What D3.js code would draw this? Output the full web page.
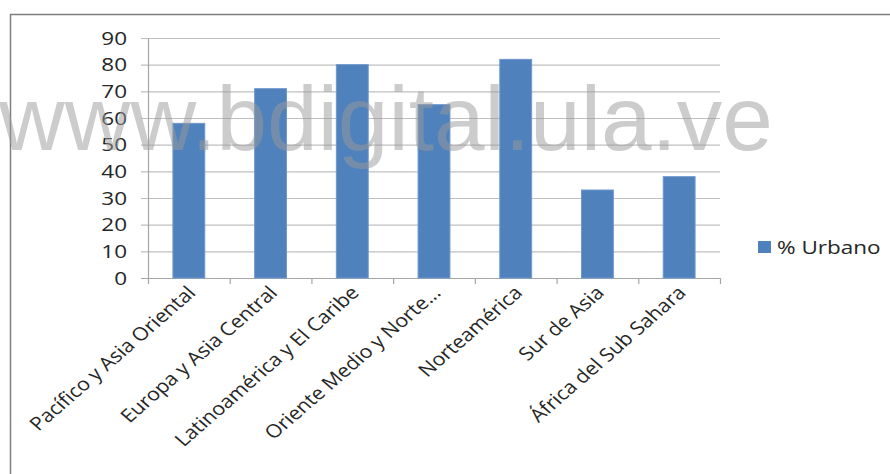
<!DOCTYPE html>
<html>
<head>
<meta charset="utf-8">
<script src="https://cdn.jsdelivr.net/npm/d3@7"></script>
<style>
  body { margin: 0; background: #fff; }
  text { font-family: "Open Sans", Lato, sans-serif; }
</style>
</head>
<body>
<div id="chart"></div>
<script>
// data
var categories = ["Pacífico y Asia Oriental", "Europa y Asia Central", "Latinoamérica y El Caribe",
                  "Oriente Medio y Norte...", "Norteamérica", "Sur de Asia", "África del Sub Sahara"];
var urbano = [58, 71, 80, 65, 82, 33, 38];
var yTicks = [0, 10, 20, 30, 40, 50, 60, 70, 80, 90];
var seriesName = "% Urbano";

var W = 890, H = 474;
var margin = {top: 38, right: 170, bottom: 196, left: 148},
    width = W - margin.left - margin.right,
    height = H - margin.top - margin.bottom;

// the original picture is a bit stretched sideways, so text gets wider
var sx = 1.25;

var root = d3.select("#chart")
  .append("svg")
    .attr("width", W)
    .attr("height", H);

// outer chart frame
root.append("rect")
  .attr("x", 10.5).attr("y", 14.5)
  .attr("width", 900).attr("height", 500)
  .attr("fill", "none")
  .attr("stroke", "#7f7f7f")
  .attr("stroke-width", 1.5);

var svg = root.append("g")
  .attr("transform", "translate(" + margin.left + "," + margin.top + ")");

var x = d3.scaleBand()
  .domain(categories)
  .range([0, width])
  .paddingInner(0.61)
  .paddingOuter(0.305);

var y = d3.scaleLinear()
  .domain([0, 90])
  .range([height, 0]);

// gridlines
svg.append("g")
  .selectAll("line")
  .data(yTicks)
  .enter().append("line")
    .attr("x1", -7).attr("x2", width)
    .attr("y1", function(d) { return y(d) + 0.5; })
    .attr("y2", function(d) { return y(d) + 0.5; })
    .attr("stroke", function(d) { return d === 0 ? "#a6a6a6" : "#bfbfbf"; })
    .attr("stroke-width", 1.2);

// Y axis line
var yAxis = svg.append("g")
  .call(d3.axisLeft(y).tickValues(yTicks).tickSize(0).tickFormat(""));
yAxis.select(".domain").attr("stroke", "#a6a6a6").attr("stroke-width", 1.2);

// Y tick labels
svg.append("g")
  .selectAll("text")
  .data(yTicks)
  .enter().append("text")
    .attr("transform", function(d) {
      return "translate(-21," + (y(d) + 6.5) + ") scale(" + sx + ",1)";
    })
    .attr("text-anchor", "end")
    .attr("font-size", "18px")
    .attr("fill", "#262626")
    .text(function(d) { return d; });

// category tick marks
var edges = categories.map(function(c, i) { return i; }).concat([categories.length]);
var step = x.step();
svg.append("g")
  .selectAll("line")
  .data(edges)
  .enter().append("line")
    .attr("x1", function(d) { return d * step + 0.5; })
    .attr("x2", function(d) { return d * step + 0.5; })
    .attr("y1", height).attr("y2", height + 6)
    .attr("stroke", "#a6a6a6")
    .attr("stroke-width", 1.2);

// bars
svg.append("g")
  .selectAll("rect")
  .data(urbano)
  .enter().append("rect")
    .attr("x", function(d, i) { return x(categories[i]); })
    .attr("y", function(d) { return y(d); })
    .attr("width", x.bandwidth())
    .attr("height", function(d) { return height - y(d); })
    .attr("fill", "#4f81bd")
    .attr("stroke", "#6f98cc")
    .attr("stroke-width", 1);

// x labels, rotated
svg.append("g")
  .selectAll("text")
  .data(categories)
  .enter().append("text")
    .attr("transform", function(d) {
      return "translate(" + (x(d) + x.bandwidth() / 2 + 8) + "," + (height + 16) + ") scale(1.15,1) rotate(-45)";
    })
    .attr("text-anchor", "end")
    .attr("font-size", "18.5px")
    .attr("fill", "#262626")
    .text(function(d) { return d; });

// legend
var legend = root.append("g").attr("transform", "translate(758,241)");
legend.append("rect")
  .attr("width", 13).attr("height", 12)
  .attr("fill", "#4f81bd");
legend.append("text")
  .attr("transform", "translate(19,13) scale(" + sx + ",1)")
  .attr("font-size", "18px")
  .attr("fill", "#262626")
  .text(seriesName);

// watermark
root.append("text")
  .attr("x", -1).attr("y", 150)
  .style("font-family", "'Liberation Sans', Arial, sans-serif")
  .attr("font-size", "91px")
  .attr("fill", "#999")
  .attr("fill-opacity", 0.5)
  .text("www.bdigital.ula.ve");
</script>
</body>
</html>
